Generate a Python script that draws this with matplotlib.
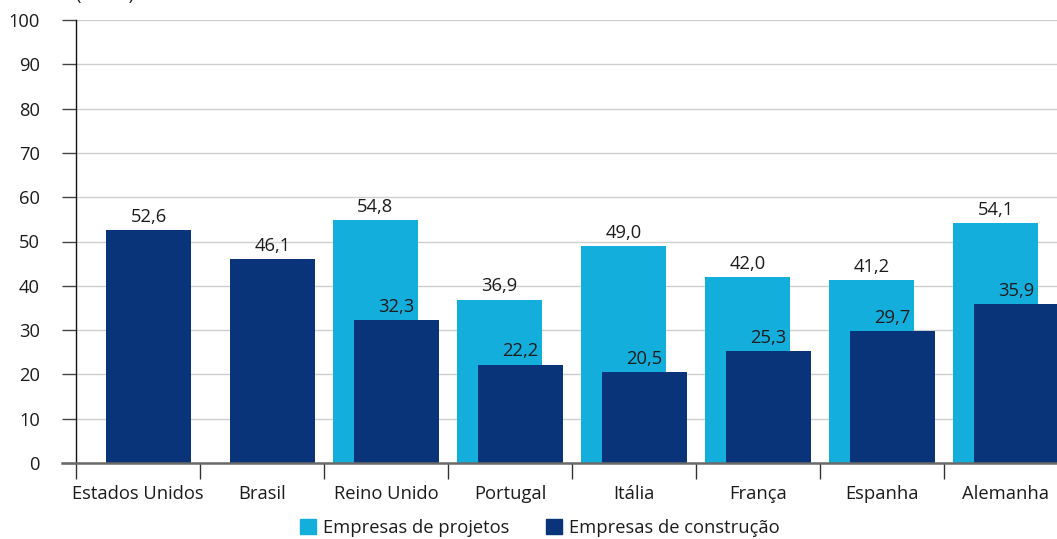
import matplotlib
matplotlib.use("Agg")
import matplotlib.pyplot as plt
from matplotlib.lines import Line2D
from matplotlib.patches import Patch
import numpy as np

categories = ["Estados Unidos", "Brasil", "Reino Unido", "Portugal", "Itália", "França", "Espanha", "Alemanha"]
projetos = [None, None, 54.8, 36.9, 49.0, 42.0, 41.2, 54.1]
construcao = [52.6, 46.1, 32.3, 22.2, 20.5, 25.3, 29.7, 35.9]
yticks = [0, 10, 20, 30, 40, 50, 60, 70, 80, 90, 100]

light = "#14aedc"
dark = "#0a347a"
txt = "#1c1c1c"

plt.rcParams['font.family'] = ['Open Sans', 'DejaVu Sans']
fs = 13.2

fig = plt.figure(figsize=(10.57, 5.39), dpi=100)
ax = fig.add_axes([76/1057, 76/539, (1068-76)/1057, (463-20)/539])

x = np.arange(len(categories))
w = 85/124
off = 10.5/124

for i in x:
    if projetos[i] is not None:
        ax.bar(i - off, projetos[i], width=w, color=light, zorder=2)
        ax.annotate(f"{projetos[i]:.1f}".replace(".", ","), (i - off, projetos[i]),
                    xytext=(0, 3), textcoords="offset points", ha="center", va="bottom",
                    fontsize=fs, color=txt, zorder=5)
for i in x:
    ax.bar(i + off, construcao[i], width=w, color=dark, zorder=3)
    ax.annotate(f"{construcao[i]:.1f}".replace(".", ","), (i + off, construcao[i]),
                xytext=(0, 3), textcoords="offset points", ha="center", va="bottom",
                fontsize=fs, color=txt, zorder=5)

ax.set_xlim(-0.5, len(categories) - 0.5)
ax.set_ylim(0, 100)
ax.set_yticks(yticks)
ax.set_yticklabels([str(v) for v in yticks], fontsize=fs, color=txt)
ax.yaxis.grid(True, color="#cfcfcf", linewidth=1, zorder=0)
ax.set_axisbelow(True)

ax.set_xticks(x)
ax.set_xticklabels(categories, fontsize=fs, color=txt)
ax.set_xticks(np.arange(-0.5, len(categories)), minor=True)
ax.tick_params(axis="x", which="major", length=0, pad=16)
ax.tick_params(axis="x", which="minor", length=11.5, width=1, color="#333333", direction="out")
ax.tick_params(axis="y", length=10, width=1, color="#444444", pad=16, direction="out")

for s in ["top", "right", "bottom"]:
    ax.spines[s].set_visible(False)
ax.spines["left"].set_color("#111111")
ax.spines["left"].set_linewidth(1)

ax.add_line(Line2D([-14/992, 1], [0, 0], transform=ax.transAxes, color="#6a6a6a",
                   linewidth=1.8, clip_on=False, zorder=4))

fig.text(105/1057, 1 - 0/539, "(Em %)", ha="center", va="baseline", fontsize=fs, color=txt)

handles = [Patch(color=light, label="Empresas de projetos"), Patch(color=dark, label="Empresas de construção")]
fig.legend(handles=handles, loc="center", bbox_to_anchor=(540/1057, 1 - 528/539), ncol=2,
           frameon=False, fontsize=fs, handlelength=0.85, handleheight=0.85, handletextpad=0.4,
           columnspacing=2.0, labelcolor=txt, borderpad=0)

fig.savefig("out.png", dpi=100)
